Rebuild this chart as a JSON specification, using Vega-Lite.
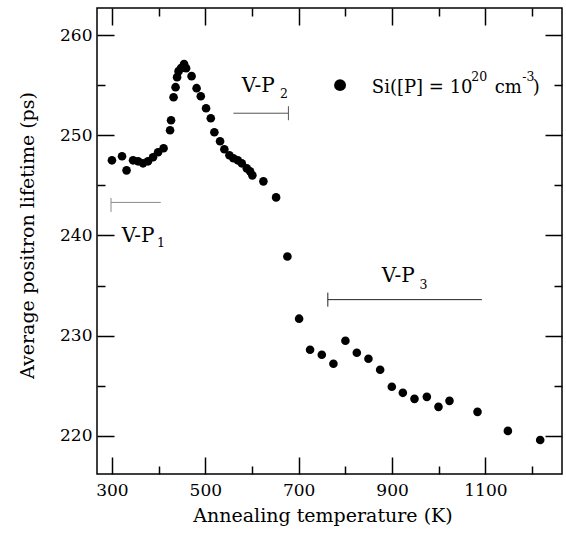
{
  "$schema": "https://vega.github.io/schema/vega-lite/v6.json",
  "width": 465,
  "height": 466,
  "autosize": {"type": "none"},
  "padding": {"left": 97, "top": 8, "right": 4, "bottom": 69},
  "background": "white",
  "config": {
    "view": {"stroke": "black", "strokeWidth": 1.5},
    "font": "DejaVu Serif",
    "axis": {
      "domain": false,
      "grid": false,
      "tickColor": "black",
      "tickWidth": 1.5,
      "labelFont": "DejaVu Serif",
      "labelFontSize": 17,
      "labelColor": "black",
      "titleFont": "DejaVu Serif",
      "titleFontSize": 19,
      "titleFontWeight": "normal",
      "titleColor": "black"
    }
  },
  "datasets": {
    "points": [
      {"T": 300, "tau": 247.5}, {"T": 321.6, "tau": 247.9}, {"T": 331.3, "tau": 246.5},
      {"T": 345.2, "tau": 247.5}, {"T": 355.9, "tau": 247.4}, {"T": 366.6, "tau": 247.2},
      {"T": 377.3, "tau": 247.4}, {"T": 388, "tau": 247.8}, {"T": 398.8, "tau": 248.3},
      {"T": 410.6, "tau": 248.7}, {"T": 424.5, "tau": 250.5}, {"T": 426.6, "tau": 251.5},
      {"T": 432, "tau": 253.8}, {"T": 436.3, "tau": 254.8}, {"T": 439.5, "tau": 255.8},
      {"T": 442.7, "tau": 256.4}, {"T": 448.1, "tau": 256.7}, {"T": 454.5, "tau": 257.1},
      {"T": 458.8, "tau": 256.7}, {"T": 470.6, "tau": 255.9}, {"T": 481.3, "tau": 254.7},
      {"T": 490.3, "tau": 253.9}, {"T": 501.6, "tau": 252.7}, {"T": 511.7, "tau": 251.7},
      {"T": 519.4, "tau": 250.3}, {"T": 531.6, "tau": 249.4}, {"T": 540.8, "tau": 248.6},
      {"T": 551.6, "tau": 248.0}, {"T": 560.1, "tau": 247.7}, {"T": 569.6, "tau": 247.5},
      {"T": 578.1, "tau": 247.2}, {"T": 588.8, "tau": 246.7}, {"T": 595.9, "tau": 246.4},
      {"T": 600.8, "tau": 246.0}, {"T": 624.4, "tau": 245.4}, {"T": 651.6, "tau": 243.8},
      {"T": 675.8, "tau": 237.9}, {"T": 700.9, "tau": 231.7}, {"T": 724.4, "tau": 228.6},
      {"T": 749.5, "tau": 228.1}, {"T": 774.4, "tau": 227.2}, {"T": 800.1, "tau": 229.5},
      {"T": 824.5, "tau": 228.3}, {"T": 849.4, "tau": 227.7}, {"T": 874.5, "tau": 226.6},
      {"T": 899.5, "tau": 224.9}, {"T": 923.1, "tau": 224.3}, {"T": 948, "tau": 223.7},
      {"T": 974.5, "tau": 223.9}, {"T": 999.4, "tau": 222.9}, {"T": 1023, "tau": 223.5},
      {"T": 1083, "tau": 222.4}, {"T": 1148.1, "tau": 220.5}, {"T": 1217.3, "tau": 219.6}
    ],
    "ranges": [
      {"name": "V-P1", "x": 298, "x2": 404.6, "y": 243.3, "end": 298, "y1": 243.75, "y2": 242.35},
      {"name": "V-P2", "x": 560.1, "x2": 678, "y": 252.2, "end": 678, "y1": 252.9, "y2": 251.5},
      {"name": "V-P3", "x": 762.4, "x2": 1092.4, "y": 233.6, "end": 762.4, "y1": 234.3, "y2": 232.9}
    ],
    "vpText": [
      {"label": "V-P", "x": 321, "y": 239.4},
      {"label": "V-P", "x": 578.1, "y": 254.3},
      {"label": "V-P", "x": 878.1, "y": 235.4}
    ],
    "legendText": [
      {"label": "Si([P] = 10", "x": 856.7, "y": 254.2},
      {"label": "cm", "x": 1119.8, "y": 254.2},
      {"label": ")", "x": 1201.2, "y": 254.2}
    ],
    "smallText": [
      {"label": "1", "x": 396.6, "y": 238.9},
      {"label": "2", "x": 660.2, "y": 253.7},
      {"label": "3", "x": 958.7, "y": 234.7},
      {"label": "20", "x": 1069.5, "y": 255.4},
      {"label": "-3", "x": 1178.7, "y": 255.4}
    ],
    "legend": [{"x": 788.6, "y": 255.0}]
  },
  "layer": [
    {
      "data": {"name": "points"},
      "mark": {"type": "point", "filled": true, "color": "black", "opacity": 1, "size": 74},
      "encoding": {
        "x": {"field": "T", "type": "quantitative",
              "scale": {"domain": [268, 1264], "nice": false, "zero": false},
              "axis": {"orient": "bottom", "values": [300, 500, 700, 900, 1100], "format": "d", "tickSize": -17, "labelPadding": 25,
                       "title": "Annealing temperature (K)", "titlePadding": 8, "titleX": 225.5}},
        "y": {"field": "tau", "type": "quantitative",
              "scale": {"domain": [216.2, 262.7], "nice": false, "zero": false},
              "axis": {"orient": "left", "values": [220, 230, 240, 250, 260], "format": "d", "tickSize": -17, "labelPadding": 22,
                       "title": "Average positron lifetime (ps)", "titlePadding": 22, "titleY": 227}}
      }
    },
    {
      "data": {"name": "ranges"},
      "mark": {"type": "rule", "strokeWidth": 1},
      "encoding": {
        "x": {"field": "x", "type": "quantitative",
              "scale": {"domain": [268, 1264], "nice": false, "zero": false},
              "axis": {"orient": "top", "values": [300, 500, 700, 900, 1100], "tickSize": -17, "labels": false, "title": null}},
        "x2": {"field": "x2"},
        "y": {"field": "y", "type": "quantitative",
              "scale": {"domain": [216.2, 262.7], "nice": false, "zero": false},
              "axis": {"orient": "right", "values": [220, 230, 240, 250, 260], "tickSize": -17, "labels": false, "title": null}},
        "color": {"field": "name", "type": "nominal", "legend": null,
                  "scale": {"domain": ["V-P1", "V-P2", "V-P3"], "range": ["#8a8a8a", "#555555", "#222222"]}}
      }
    },
    {
      "data": {"name": "ranges"},
      "mark": {"type": "rule", "strokeWidth": 1},
      "encoding": {
        "x": {"field": "end", "type": "quantitative",
              "scale": {"domain": [268, 1264], "nice": false, "zero": false},
              "axis": {"orient": "bottom", "values": [400, 600, 800, 1000, 1200], "tickSize": -8, "labels": false, "title": null}},
        "y": {"field": "y1", "type": "quantitative",
              "scale": {"domain": [216.2, 262.7], "nice": false, "zero": false},
              "axis": {"orient": "left", "values": [225, 235, 245, 255], "tickSize": -8, "labels": false, "title": null}},
        "y2": {"field": "y2"},
        "color": {"field": "name", "type": "nominal", "legend": null,
                  "scale": {"domain": ["V-P1", "V-P2", "V-P3"], "range": ["#8a8a8a", "#555555", "#222222"]}}
      }
    },
    {
      "data": {"name": "vpText"},
      "mark": {"type": "text", "font": "DejaVu Serif", "fontSize": 20, "align": "left", "baseline": "alphabetic", "color": "black"},
      "encoding": {
        "x": {"field": "x", "type": "quantitative",
              "scale": {"domain": [268, 1264], "nice": false, "zero": false},
              "axis": {"orient": "top", "values": [400, 600, 800, 1000, 1200], "tickSize": -8, "labels": false, "title": null}},
        "y": {"field": "y", "type": "quantitative",
              "scale": {"domain": [216.2, 262.7], "nice": false, "zero": false},
              "axis": {"orient": "right", "values": [225, 235, 245, 255], "tickSize": -8, "labels": false, "title": null}},
        "text": {"field": "label"}
      }
    },
    {
      "data": {"name": "legendText"},
      "mark": {"type": "text", "font": "DejaVu Serif", "fontSize": 18, "align": "left", "baseline": "alphabetic", "color": "black"},
      "encoding": {
        "x": {"field": "x", "type": "quantitative",
              "scale": {"domain": [268, 1264], "nice": false, "zero": false}, "axis": null},
        "y": {"field": "y", "type": "quantitative",
              "scale": {"domain": [216.2, 262.7], "nice": false, "zero": false}, "axis": null},
        "text": {"field": "label"}
      }
    },
    {
      "data": {"name": "smallText"},
      "mark": {"type": "text", "font": "DejaVu Serif", "fontSize": 12.5, "align": "left", "baseline": "alphabetic", "color": "black"},
      "encoding": {
        "x": {"field": "x", "type": "quantitative",
              "scale": {"domain": [268, 1264], "nice": false, "zero": false}, "axis": null},
        "y": {"field": "y", "type": "quantitative",
              "scale": {"domain": [216.2, 262.7], "nice": false, "zero": false}, "axis": null},
        "text": {"field": "label"}
      }
    },
    {
      "data": {"name": "legend"},
      "mark": {"type": "point", "filled": true, "color": "black", "opacity": 1, "size": 140},
      "encoding": {
        "x": {"field": "x", "type": "quantitative",
              "scale": {"domain": [268, 1264], "nice": false, "zero": false}, "axis": null},
        "y": {"field": "y", "type": "quantitative",
              "scale": {"domain": [216.2, 262.7], "nice": false, "zero": false}, "axis": null}
      }
    }
  ],
  "resolve": {"axis": {"x": "independent", "y": "independent"}}
}
